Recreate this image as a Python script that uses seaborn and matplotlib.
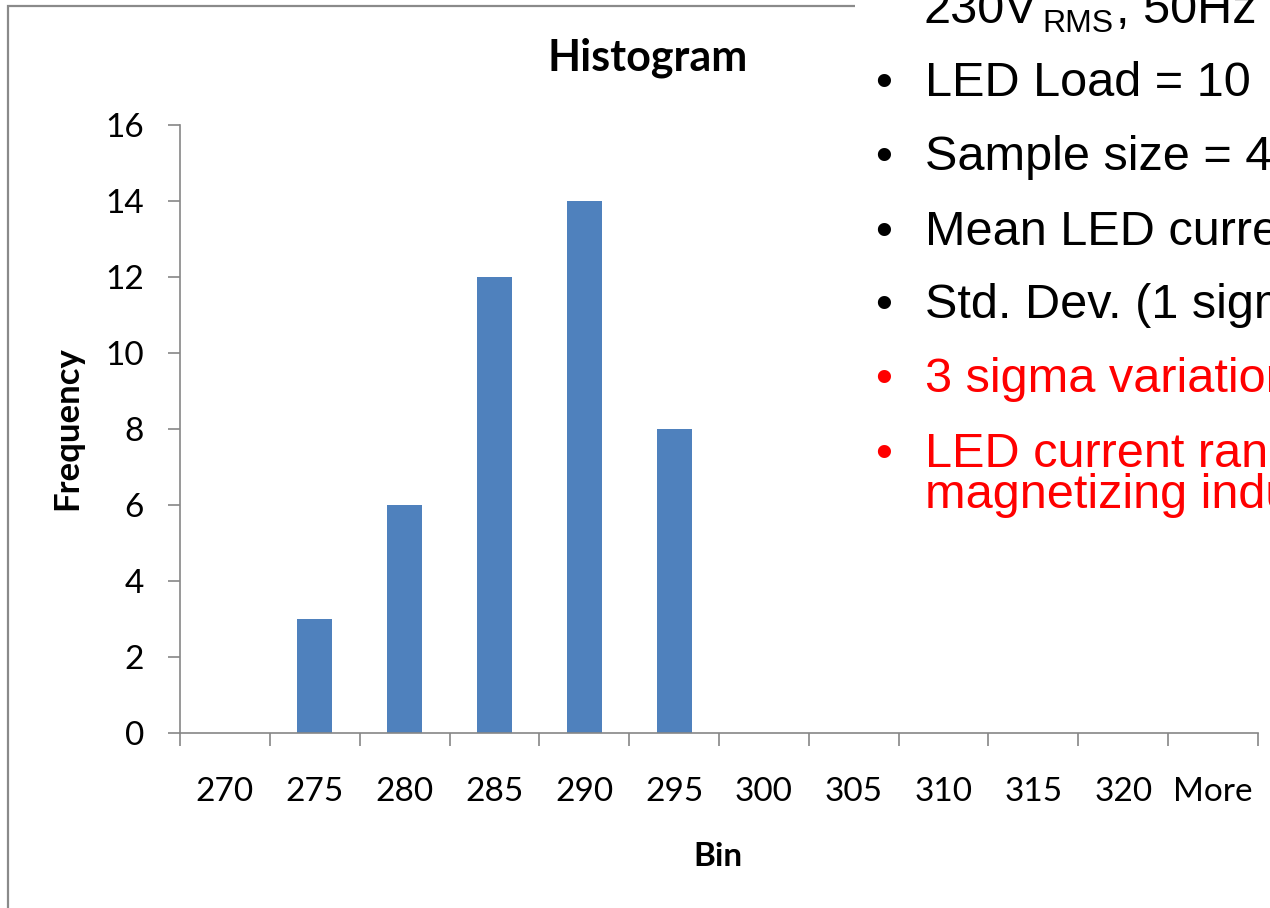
import matplotlib
matplotlib.use("Agg")
import matplotlib.pyplot as plt
import seaborn as sns
import pandas as pd
from matplotlib.patches import Rectangle

# Histogram of measured LED current (bins in mA)
bins = ["270", "275", "280", "285", "290", "295", "300", "305", "310", "315", "320", "More"]
frequency = [0, 3, 6, 12, 14, 8, 0, 0, 0, 0, 0, 0]

# Slide notes shown beside the chart
supply_main = "230V"
supply_sub = "RMS"
supply_tail = ", 50Hz"
notes_black = ["LED Load = 10", "Sample size = 43", "Mean LED current", "Std. Dev. (1 sigma)"]
notes_red = ["3 sigma variation", "LED current range", "magnetizing inductance"]

sns.set_theme(style="white")
plt.rcParams["font.family"] = ["Lato", "DejaVu Sans"]

W, H = 1270, 908
fig = plt.figure(figsize=(W / 100, H / 100), dpi=100)
fig.patch.set_facecolor("white")


def fx(px):
    return px / W


def fy(py):
    return 1 - py / H


ax = fig.add_axes([fx(180), fy(733), (1258 - 180) / W, (733 - 125) / H])

df = pd.DataFrame({"Bin": bins, "Frequency": frequency})
sns.barplot(data=df, x="Bin", y="Frequency", order=bins, color="#4F81BD",
            saturation=1, width=0.39, linewidth=0, errorbar=None, ax=ax)

axis_grey = "#868686"
ax.set_xlim(-0.5, len(bins) - 0.5)
ax.set_ylim(0, 16)
ax.set_yticks(range(0, 17, 2))
sns.despine(ax=ax)
for side in ("left", "bottom"):
    ax.spines[side].set_color(axis_grey)
    ax.spines[side].set_linewidth(1.2)

# category labels centred, tick marks on the category boundaries
tick_size = 24
ax.set_xticks(range(len(bins)))
ax.set_xticklabels(bins)
ax.set_xticks([i - 0.5 for i in range(len(bins) + 1)], minor=True)
ax.tick_params(axis="x", which="major", length=0, pad=32, labelsize=tick_size, labelcolor="black")
ax.tick_params(axis="x", which="minor", length=9, width=1.2, color=axis_grey, direction="out")
ax.tick_params(axis="y", which="major", length=9, width=1.2, color=axis_grey, direction="out",
               pad=17, labelsize=tick_size, labelcolor="black")
ax.tick_params(left=True, bottom=False)
ax.tick_params(axis="x", which="minor", bottom=True)

ax.set_xlabel("Bin", fontsize=24, fontweight="bold", color="black")
ax.set_ylabel("Frequency", fontsize=25, fontweight="bold", color="black")
ax.xaxis.set_label_coords((718 - 180) / (1258 - 180), (733 - 857) / (733 - 125))
ax.xaxis.label.set_va("center")
ax.yaxis.set_label_coords((67 - 180) / (1258 - 180), (733 - 428) / (733 - 125))
ax.yaxis.label.set_va("center")

fig.suptitle("Histogram", x=fx(648), y=fy(70), ha="center", va="baseline",
             fontsize=31, fontweight="bold", color="black")

# chart frame
fig.add_artist(Rectangle((fx(8), -0.2), 1.5, fy(6) + 0.2, transform=fig.transFigure,
                         fill=False, edgecolor="#8a8a8a", linewidth=1.6, zorder=1))
# text box on top of the chart
fig.add_artist(Rectangle((fx(855), fy(640)), 1.0, 1.0, transform=fig.transFigure,
                         facecolor="white", edgecolor="none", zorder=2))

txt_font = ["Liberation Sans", "DejaVu Sans"]
size = 35
fig.text(fx(923), fy(23), supply_main, family=txt_font, fontsize=size, color="black",
         va="baseline", ha="left", zorder=3)
fig.text(fx(1042), fy(32), supply_sub, family=txt_font, fontsize=23, color="black",
         va="baseline", ha="left", zorder=3)
fig.text(fx(1116), fy(23), supply_tail, family=txt_font, fontsize=size, color="black",
         va="baseline", ha="left", zorder=3)


def bullet_line(text, base, color, bullet=True):
    if bullet:
        fig.text(fx(884), fy(base), "\u2022", family=txt_font, fontsize=size, color=color,
                 va="baseline", ha="center", zorder=3)
    fig.text(fx(925), fy(base), text, family=txt_font, fontsize=size, color=color,
             va="baseline", ha="left", zorder=3)


for line, base in zip(notes_black, [96, 170, 245, 318]):
    bullet_line(line, base, "black")

red = "#FF0000"
bullet_line(notes_red[0], 392, red)
bullet_line(notes_red[1], 467, red)
bullet_line(notes_red[2], 508, red, bullet=False)

fig.savefig("out.png", dpi=100)
